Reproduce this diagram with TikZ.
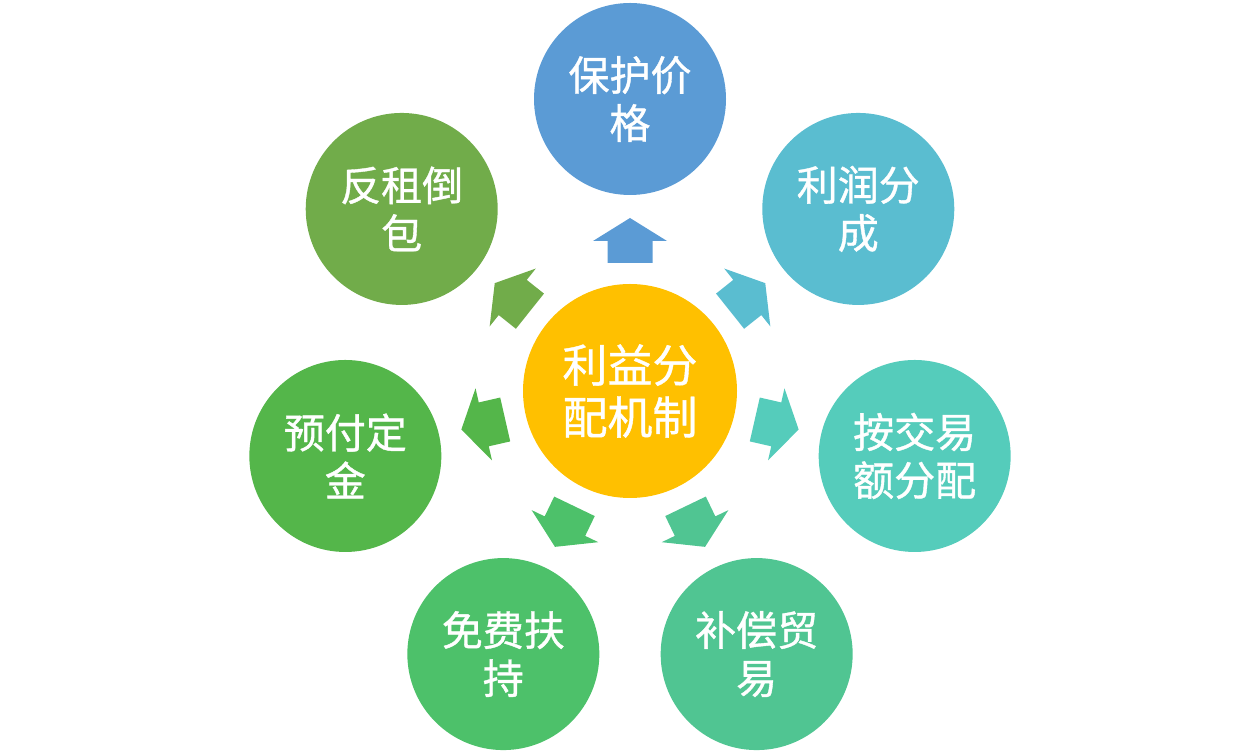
\documentclass[tikz,border=0pt]{standalone}
\usepackage{fontspec}
\usetikzlibrary{calc}
\newfontfamily\cjk[FakeBold=0.9]{Noto Sans CJK SC}
\definecolor{cCenter}{HTML}{FFC000}
\definecolor{cA}{HTML}{5B9BD5}
\definecolor{cB}{HTML}{5ABDD0}
\definecolor{cC}{HTML}{55CCBB}
\definecolor{cD}{HTML}{50C592}
\definecolor{cE}{HTML}{4DC16A}
\definecolor{cF}{HTML}{54B64A}
\definecolor{cG}{HTML}{71AC4A}
\tikzset{
  outer/.style={circle, fill=#1, minimum size=192pt, inner sep=0pt, text=white,
    font=\cjk\fontsize{41}{48}\selectfont, align=center},
  centre/.style={circle, fill=cCenter, minimum size=214pt, inner sep=0pt, text=white,
    font=\cjk\fontsize{45}{52}\selectfont, align=center},
}
\newcommand{\blockarrow}[2]{%
  \begin{scope}[shift={(c.center)}, rotate=#1-90]
    \fill[#2] (-22.5,128) -- (-22.5,150) -- (-37,150) -- (0,173) -- (37,150) -- (22.5,150) -- (22.5,128) -- cycle;
  \end{scope}}
\begin{document}
\begin{tikzpicture}[x=1pt,y=1pt]
\useasboundingbox (0,0) rectangle (1260,754);
\node[centre] (c) at (630,363) {利益分\\配机制};
\node[outer=cA] (n1) at ($(c)+(90:292)$) {保护价\\格};
\node[outer=cB] (n2) at ($(c)+(38.57:292)$) {利润分\\成};
\node[outer=cC] (n3) at ($(c)+(-12.86:292)$) {按交易\\额分配};
\node[outer=cD] (n4) at ($(c)+(-64.29:292)$) {补偿贸\\易};
\node[outer=cE] (n5) at ($(c)+(-115.71:292)$) {免费扶\\持};
\node[outer=cF] (n6) at ($(c)+(-167.14:292)$) {预付定\\金};
\node[outer=cG] (n7) at ($(c)+(141.43:292)$) {反租倒\\包};
\blockarrow{90}{cA}
\blockarrow{38.57}{cB}
\blockarrow{-12.86}{cC}
\blockarrow{-64.29}{cD}
\blockarrow{-115.71}{cE}
\blockarrow{-167.14}{cF}
\blockarrow{141.43}{cG}
\end{tikzpicture}
\end{document}
